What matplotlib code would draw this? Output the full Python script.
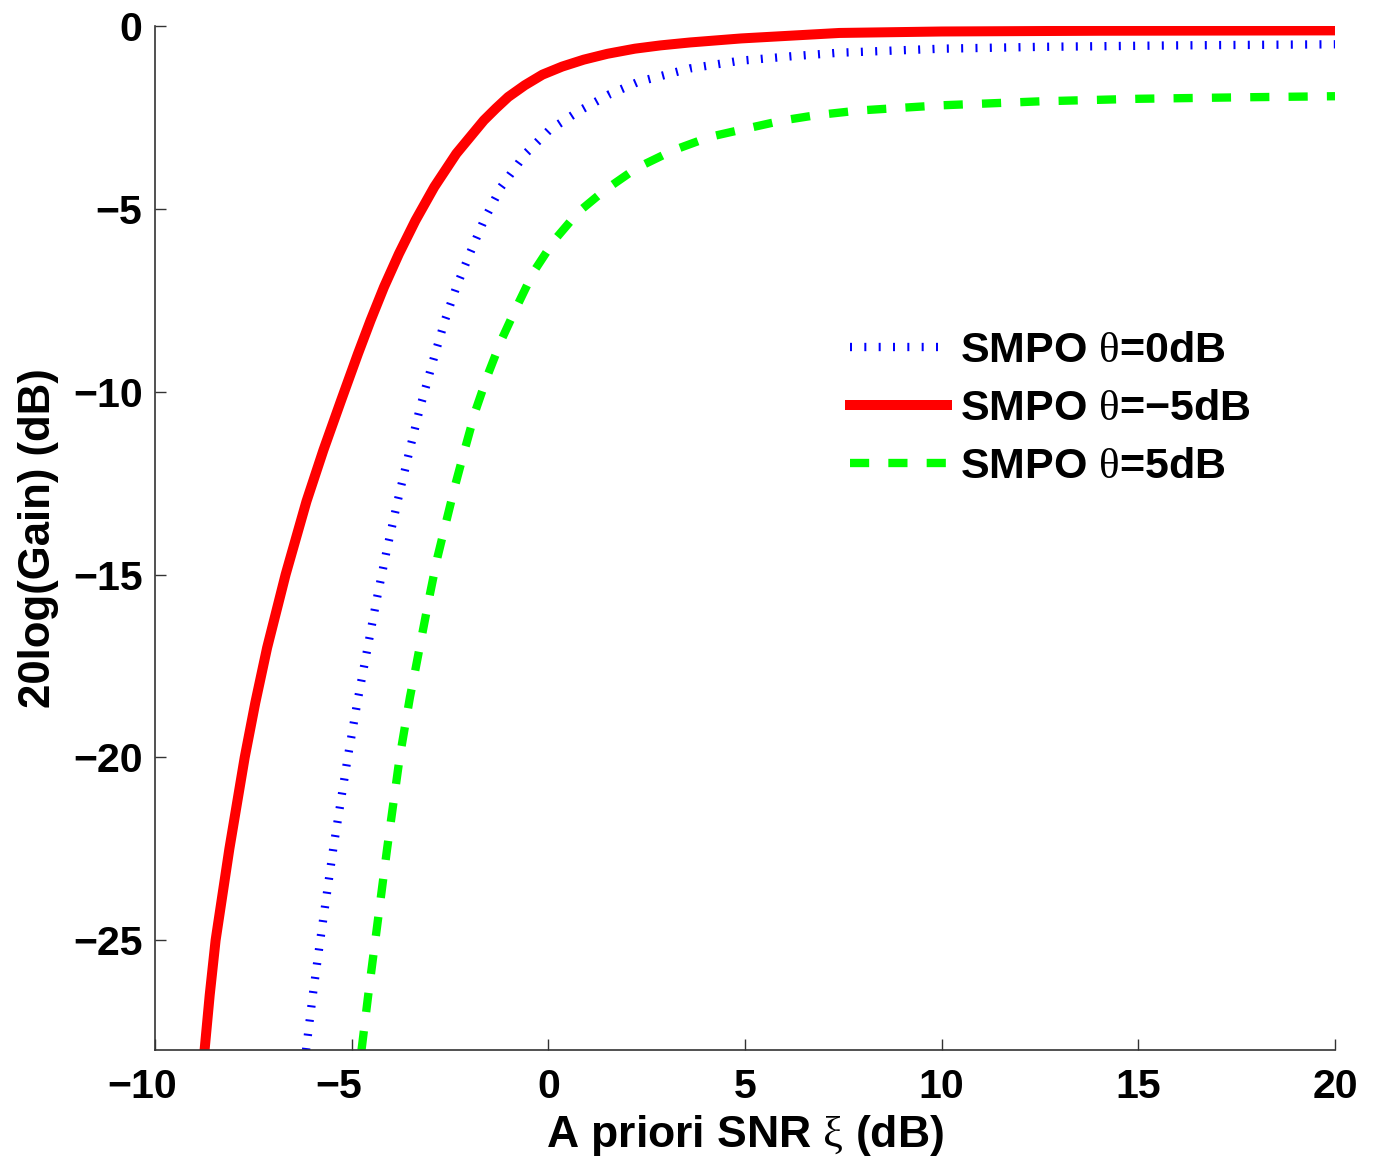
import matplotlib
matplotlib.use('AGG')
import matplotlib.pyplot as plt
import matplotlib.transforms as mtransforms

# SMPO gain curves, 20log(Gain) in dB against a priori SNR in dB
snr_m5 = [-8.74, -8.61, -8.46, -8.11, -7.72, -7.45, -7.15, -6.68, -6.15,
          -5.72, -5.27, -4.84, -4.52, -4.18, -3.80, -3.38, -2.90, -2.34,
          -1.64, -1.33, -1.02, -0.60, -0.15, 0.35, 0.90, 1.50, 2.20, 2.85,
          3.6, 4.9, 7.4, 10, 14, 20]
gain_m5 = [-28, -26.5, -25, -22.5, -20, -18.5, -17, -15, -13,
           -11.6, -10.24, -8.96, -8.05, -7.14, -6.23, -5.32, -4.40, -3.49,
           -2.58, -2.25, -1.94, -1.62, -1.33, -1.11, -0.92, -0.76, -0.62, -0.53,
           -0.45, -0.34, -0.19, -0.15, -0.13, -0.12]

snr_0 = [-6.16, -5.99, -5.80, -5.47, -5.10, -4.85, -4.61, -4.37, -4.11,
         -3.83, -3.53, -3.27, -2.88, -2.63, -2.34, -2.00, -1.64, -1.20,
         -0.58, 0.02, 0.80, 1.55, 2.28, 3.6, 4.87, 6.15, 7.4, 10.0, 12.5, 16, 20]
gain_0 = [-28, -26.5, -25, -22.5, -20, -18.45, -17.08, -15.71, -14.34,
          -12.98, -11.61, -10.47, -8.96, -8.05, -7.14, -6.23, -5.32, -4.40,
          -3.49, -2.85, -2.31, -1.87, -1.53, -1.16, -0.95, -0.83, -0.73, -0.62,
          -0.57, -0.53, -0.50]

snr_p5 = [-4.75, -4.58, -4.40, -4.10, -3.78, -3.52, -3.37, -3.19, -3.01,
          -2.82, -2.59, -2.36, -2.11, -1.85, -1.53, -1.20, -0.81, -0.38,
          0.15, 0.76, 1.42, 2.25, 3.17, 4.11, 5.05, 5.97, 6.8, 7.9, 9.96,
          12.5, 15.0, 17.6, 20]
gain_p5 = [-28, -26.5, -25, -22.5, -20, -18.36, -17.54, -16.53, -15.53,
           -14.53, -13.52, -12.52, -11.52, -10.51, -9.51, -8.60, -7.69, -6.73,
           -5.86, -5.09, -4.50, -3.88, -3.40, -3.03, -2.80, -2.58, -2.44, -2.31,
           -2.17, -2.06, -1.99, -1.95, -1.92]

labels = ['SMPO $\\mathrm{\\theta}$=0dB', 'SMPO $\\mathrm{\\theta}$=\u22125dB',
          'SMPO $\\mathrm{\\theta}$=5dB']
xticks = [-10, -5, 0, 5, 10, 15, 20]
yticks = [-25, -20, -15, -10, -5, 0]

plt.rcParams['font.family'] = ['Liberation Sans', 'DejaVu Sans']
plt.rcParams['mathtext.fontset'] = 'custom'
plt.rcParams['mathtext.rm'] = 'Liberation Serif:weight=normal'
plt.rcParams['mathtext.it'] = 'Liberation Serif:italic'
plt.rcParams['mathtext.bf'] = 'Liberation Serif:bold'

fig = plt.figure(figsize=(13.78, 11.61), dpi=100)
ax = fig.add_axes([0.1125, 0.0956, 0.8563, 0.8820])

ax.plot(snr_0, gain_0, color='#0000ff', linewidth=6,
        linestyle=(0, (0.24, 1.48)), dash_capstyle='butt', label=labels[0])
ax.plot(snr_m5, gain_m5, color='#ff0000', linewidth=7.2,
        solid_joinstyle='round', label=labels[1])
ax.plot(snr_p5, gain_p5, color='#00ff00', linewidth=6,
        linestyle=(0, (2.3, 2.3)), dash_capstyle='butt', label=labels[2])

ax.set_xlim(-10, 20)
ax.set_ylim(-28, 0)
ax.set_xticks(xticks)
ax.set_yticks(yticks)
ax.spines['top'].set_visible(False)
ax.spines['right'].set_visible(False)
for s in ['left', 'bottom']:
    ax.spines[s].set_color('#333333')
    ax.spines[s].set_linewidth(1.2)
ax.tick_params(direction='in', length=8, width=1, color='#333333',
               labelsize=29.5)
ax.tick_params(axis='x', pad=13)
ax.tick_params(axis='y', pad=9)
for lbl in ax.get_xticklabels() + ax.get_yticklabels():
    lbl.set_fontweight('bold')

# negative x labels centred on their digits, minus sign hanging left
shift = mtransforms.ScaledTranslation(-0.13, 0, fig.dpi_scale_trans)
for lbl, v in zip(ax.get_xticklabels(), xticks):
    if v < 0:
        lbl.set_transform(lbl.get_transform() + shift)

ax.set_xlabel('A priori SNR $\\mathrm{\\xi}$ (dB)', fontsize=32,
              fontweight='bold', labelpad=5)
ax.set_ylabel('20log(Gain) (dB)', fontsize=31.5, fontweight='bold', labelpad=10)

ax.legend(loc='center left', bbox_to_anchor=(0.589, 0.626), frameon=False,
          prop={'weight': 'bold', 'size': 31}, borderpad=0, borderaxespad=0,
          handlelength=2.25, handletextpad=0.3, labelspacing=0.42)

fig.savefig('out.png', dpi=100)
plt.close()
